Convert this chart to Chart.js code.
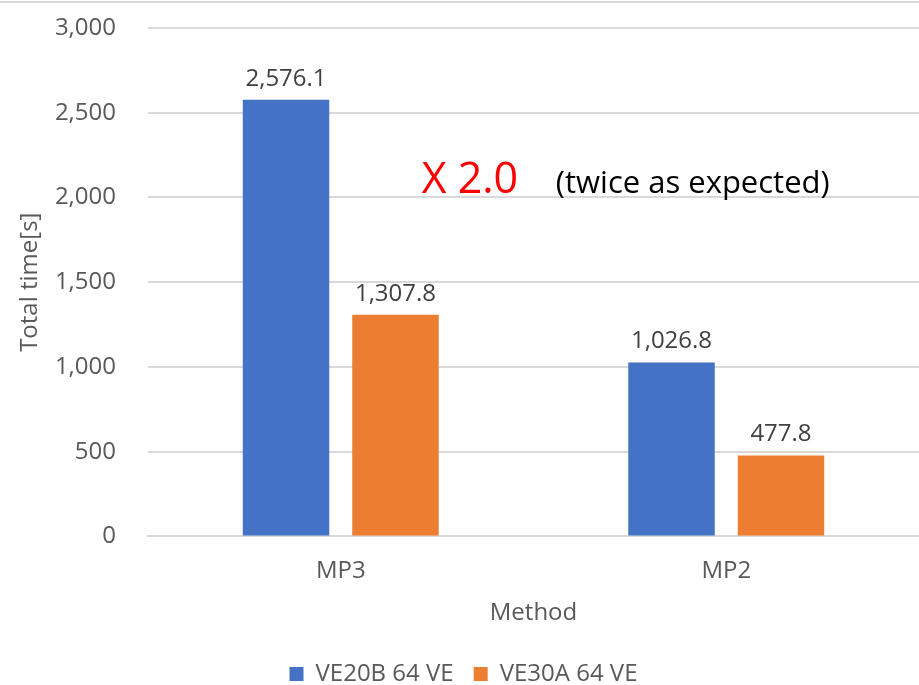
<!DOCTYPE html>
<html>
<head>
<meta charset="utf-8">
<script src="https://cdn.jsdelivr.net/npm/chart.js@4"></script>
<style>
  body { margin: 0; background: #fff; }
  #wrap { width: 919px; height: 685px; }
</style>
</head>
<body>
<div id="wrap"><canvas id="myChart"></canvas></div>
<script>
const categorias = ['MP3', 'MP2'];
const serieVE20B = [2576.1, 1026.8];
const serieVE30A = [1307.8, 477.8];
const nombresSeries = ['VE20B 64 VE', 'VE30A 64 VE'];
const ticksY = [0, 500, 1000, 1500, 2000, 2500, 3000];

const fuente = '"Open Sans", "Noto Sans", sans-serif';
const fmt1 = new Intl.NumberFormat('en-US', { minimumFractionDigits: 1, maximumFractionDigits: 1 });
const fmt0 = new Intl.NumberFormat('en-US');

// etiquetas encima de cada barra
const etiquetas = {
    id: 'etiquetas',
    afterDatasetsDraw(chart) {
        const ctx = chart.ctx;
        ctx.save();
        ctx.font = '24px ' + fuente;
        ctx.fillStyle = '#404040';
        ctx.textAlign = 'center';
        ctx.textBaseline = 'alphabetic';
        chart.data.datasets.forEach((ds, i) => {
            chart.getDatasetMeta(i).data.forEach((bar, j) => {
                ctx.fillText(fmt1.format(ds.data[j]), bar.x, bar.y - 14);
            });
        });
        ctx.restore();
    }
};

// nota "X 2.0 (twice as expected)"
const nota = {
    id: 'nota',
    afterDraw(chart) {
        const x = chart.scales.x, y = chart.scales.y;
        const x0 = x.getPixelForValue(0), x1 = x.getPixelForValue(1);
        const yy = y.getPixelForValue(2024);
        const ctx = chart.ctx;
        ctx.save();
        ctx.textBaseline = 'alphabetic';
        ctx.textAlign = 'left';
        ctx.font = '43px ' + fuente;
        ctx.fillStyle = '#ff0000';
        ctx.fillText('X 2.0', x0 + (x1 - x0) * 0.21, yy);
        ctx.font = '31px ' + fuente;
        ctx.fillStyle = '#000000';
        ctx.fillText('(twice as expected)', x0 + (x1 - x0) * 0.558, yy);
        ctx.restore();
    }
};

const bordeSuperior = {
    id: 'bordeSuperior',
    beforeDraw(chart) {
        const ctx = chart.ctx;
        ctx.save();
        ctx.strokeStyle = '#d9d9d9';
        ctx.lineWidth = 2;
        ctx.beginPath();
        ctx.moveTo(0, 2);
        ctx.lineTo(chart.width, 2);
        ctx.stroke();
        ctx.restore();
    }
};

const grafico = document.querySelector('#myChart');
new Chart(grafico.getContext('2d'), {
    type: 'bar',
    data: {
        labels: categorias,
        datasets: [
            { label: nombresSeries[0], data: serieVE20B, backgroundColor: '#4472C4' },
            { label: nombresSeries[1], data: serieVE30A, backgroundColor: '#ED7D31' }
        ]
    },
    plugins: [bordeSuperior, etiquetas, nota],
    options: {
        responsive: true,
        maintainAspectRatio: false,
        animation: false,
        devicePixelRatio: 1,
        layout: { padding: { top: 28, right: 0, left: 8, bottom: -11 } },
        datasets: {
            bar: { categoryPercentage: 0.568, barPercentage: 0.79 }
        },
        plugins: {
            tooltip: { enabled: false },
            legend: {
                position: 'bottom',
                labels: {
                    font: { family: fuente, size: 24 },
                    color: '#595959',
                    boxWidth: 14,
                    boxHeight: 14,
                    padding: 20
                }
            }
        },
        scales: {
            x: {
                grid: { display: false, drawTicks: false },
                border: { color: '#d9d9d9', width: 2 },
                ticks: { font: { family: fuente, size: 24 }, color: '#595959', padding: 20 },
                title: { display: true, text: 'Method', font: { family: fuente, size: 24 }, color: '#595959', padding: { top: -6, bottom: 14 } }
            },
            y: {
                min: 0,
                max: 3000,
                afterBuildTicks: (axis) => { axis.ticks = ticksY.map(v => ({ value: v })); },
                afterFit: (axis) => {
                    axis.width = 140;
                    axis.paddingTop = 0;
                    axis.paddingBottom = 0;
                },
                grid: { color: '#d9d9d9', lineWidth: 2, drawTicks: false },
                border: { display: false },
                ticks: { font: { family: fuente, size: 24 }, color: '#595959', padding: 32, callback: v => fmt0.format(v) },
                title: { display: true, text: 'Total time[s]', font: { family: fuente, size: 24 }, color: '#595959', padding: { top: 8, bottom: 0 } }
            }
        }
    }
});
</script>
</body>
</html>
